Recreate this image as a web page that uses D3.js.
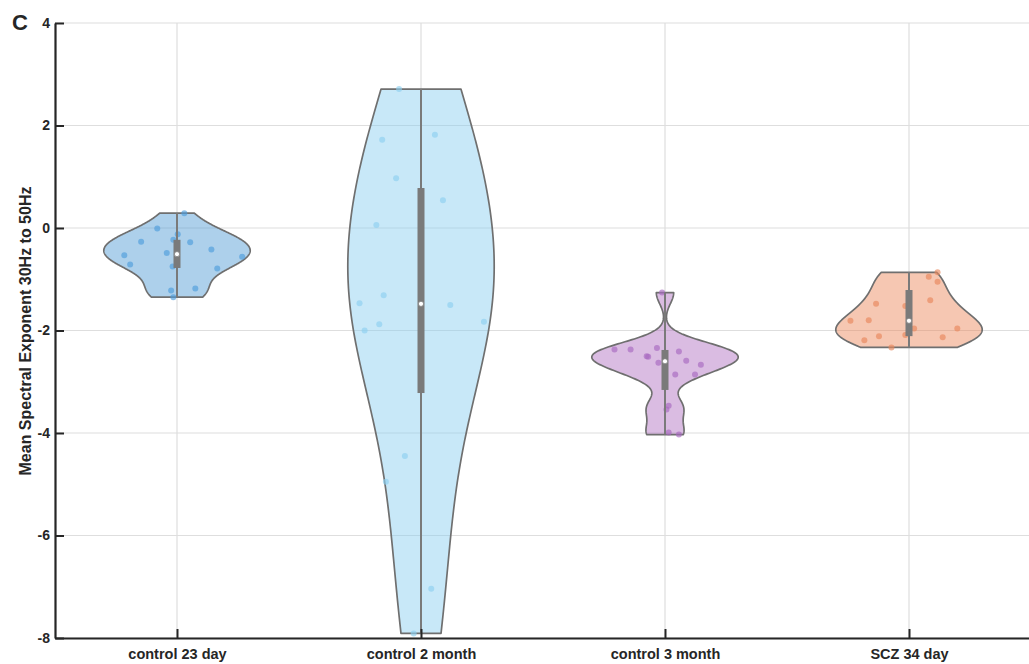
<!DOCTYPE html>
<html>
<head>
<meta charset="utf-8">
<script src="https://cdn.jsdelivr.net/npm/d3@7"></script>
<style>
  html, body { margin: 0; padding: 0; background: #ffffff; }
  svg { display: block; }
  text { font-family: "Liberation Sans", Arial, Helvetica, sans-serif; font-weight: bold; fill: #262626; }
</style>
</head>
<body>
<svg id="chart" width="1029" height="664"></svg>
<script>
// Groups shown along the x axis
const categories = ["control 23 day", "control 2 month", "control 3 month", "SCZ 34 day"];

// Mean spectral exponent (30–50 Hz) per recording, one array per group
const control23day = [0.29, -0.01, -0.27, -0.23, -0.12, -0.28, -0.42, -0.53, -0.49, -0.71, -0.75, -0.79, -0.56, -1.22, -1.18, -1.35];
const control2month = [2.71, 1.72, 1.82, 0.97, 0.54, 0.06, -1.31, -1.47, -1.50, -1.83, -1.88, -2.00, -4.45, -4.95, -7.04, -7.91];
const control3month = [-1.26, -2.37, -2.37, -2.34, -2.50, -2.51, -2.41, -2.63, -2.59, -2.67, -2.86, -2.86, -3.47, -3.54, -3.99, -4.03];
const scz34day = [-0.865, -0.95, -1.05, -1.48, -1.41, -1.52, -1.81, -1.80, -1.96, -1.96, -2.11, -2.19, -2.09, -2.13, -2.33];

// Horizontal scatter of each point, as a fraction of the maximum violin half-width
const jitter23day = [0.10, -0.27, -0.49, -0.05, 0.01, 0.18, 0.47, -0.72, -0.14, -0.64, -0.06, 0.55, 0.89, -0.08, 0.25, -0.05];
const jitter2month = [-0.30, -0.53, 0.19, -0.34, 0.30, -0.61, -0.51, -0.84, 0.40, 0.86, -0.57, -0.77, -0.22, -0.48, 0.14, -0.10];
const jitter3month = [-0.04, -0.69, -0.47, -0.11, -0.25, -0.23, 0.19, -0.09, 0.29, 0.49, 0.41, 0.14, 0.05, 0.02, 0.05, 0.19];
const jitterScz = [0.39, 0.27, 0.39, -0.45, 0.29, -0.05, -0.80, -0.55, 0.07, 0.66, -0.41, -0.61, -0.05, 0.46, -0.24];

// Box summary per group: upper quartile, median, lower quartile
const upperQuartile = [-0.23, 0.78, -2.38, -1.21];
const medians = [-0.51, -1.48, -2.60, -1.81];
const lowerQuartile = [-0.78, -3.22, -3.16, -2.11];

// Y axis ticks
const yTicks = [-8, -6, -4, -2, 0, 2, 4];

const groups = [control23day, control2month, control3month, scz34day];
const jitters = [jitter23day, jitter2month, jitter3month, jitterScz];
const violinColors = ["#4a97d3", "#86cdef", "#ad6bbf", "#eb8354"];
const dotColors = ["#4f9ddb", "#8ed0ef", "#a868c0", "#e8875c"];

const svg = d3.select("#chart");
const margin = { left: 55, top: 23, bottom: 638, right: 1031 };

const x = d3.scalePoint().domain(categories).range([margin.left, margin.right]).padding(0.5);
const y = d3.scaleLinear().domain([-8, 4]).range([margin.bottom, margin.top]);
const halfWidth = x.step() * 0.3;

// Grid
const grid = svg.append("g").attr("stroke", "#dedede").attr("stroke-width", 1.2);
grid.selectAll("line.h").data(yTicks).join("line")
  .attr("x1", margin.left).attr("x2", 1029)
  .attr("y1", d => y(d)).attr("y2", d => y(d));
grid.selectAll("line.v").data(categories).join("line")
  .attr("x1", d => x(d)).attr("x2", d => x(d))
  .attr("y1", margin.top).attr("y2", margin.bottom);

// Gaussian kernel density with the normal-reference bandwidth (MAD based)
function kde(values, n) {
  const med = d3.median(values);
  const sig = d3.median(values.map(v => Math.abs(v - med))) / 0.6745;
  const bw = sig * Math.pow(4 / (3 * values.length), 0.2);
  const lo = d3.min(values), hi = d3.max(values);
  const pts = d3.range(n).map(i => lo + (hi - lo) * i / (n - 1));
  return pts.map(p => {
    const d = d3.sum(values, v => Math.exp(-0.5 * ((p - v) / bw) ** 2));
    return [p, d];
  });
}

groups.forEach((vals, i) => {
  const cx = x(categories[i]);
  const dens = kde(vals, 200);
  const maxD = d3.max(dens, d => d[1]);
  const w = d => halfWidth * d[1] / maxD;

  const area = d3.area()
    .y(d => y(d[0]))
    .x0(d => cx - w(d))
    .x1(d => cx + w(d));

  const g = svg.append("g");
  g.append("path")
    .datum(dens)
    .attr("d", area)
    .attr("fill", violinColors[i])
    .attr("fill-opacity", 0.45)
    .attr("stroke", "#6f6f6f")
    .attr("stroke-width", 1.7)
    .attr("stroke-linejoin", "round");

  // Points
  g.selectAll("circle.pt").data(vals).join("circle")
    .attr("cx", (v, j) => cx + jitters[i][j] * halfWidth)
    .attr("cy", v => y(v))
    .attr("r", 3)
    .attr("fill", dotColors[i])
    .attr("fill-opacity", 0.65);

  // Whisker spans the data range
  g.append("line")
    .attr("x1", cx).attr("x2", cx)
    .attr("y1", y(d3.max(vals))).attr("y2", y(d3.min(vals)))
    .attr("stroke", "#7a7a7a").attr("stroke-width", 2);

  // Interquartile box
  g.append("rect")
    .attr("x", cx - 3.5).attr("width", 7)
    .attr("y", y(upperQuartile[i]))
    .attr("height", y(lowerQuartile[i]) - y(upperQuartile[i]))
    .attr("fill", "#7a7a7a");

  // Median
  g.append("circle")
    .attr("cx", cx).attr("cy", y(medians[i]))
    .attr("r", 2.6)
    .attr("fill", "#ffffff")
    .attr("stroke", "#7a7a7a").attr("stroke-width", 0.8);
});

// Axes
const yAxis = d3.axisLeft(y).tickValues(yTicks).tickFormat(d => String(d))
  .tickSizeInner(-9).tickSizeOuter(0).tickPadding(5);
const yg = svg.append("g").attr("transform", `translate(${margin.left},0)`).call(yAxis);
yg.select(".domain").attr("stroke", "#262626").attr("stroke-width", 2.2);
yg.selectAll(".tick line").attr("stroke", "#262626").attr("stroke-width", 2);
yg.selectAll(".tick text").style("font-size", "14px").attr("fill", "#262626");

const xAxis = d3.axisBottom(x).tickSizeInner(-9).tickSizeOuter(0).tickPadding(11);
const xg = svg.append("g").attr("transform", `translate(0,${margin.bottom})`).call(xAxis);
xg.select(".domain").attr("stroke", "#262626").attr("stroke-width", 2.2);
xg.selectAll(".tick line").attr("stroke", "#262626").attr("stroke-width", 2);
xg.selectAll(".tick text").style("font-size", "14.5px").attr("fill", "#262626");

// Y axis title
svg.append("text")
  .attr("transform", `translate(31,331) rotate(-90)`)
  .attr("text-anchor", "middle")
  .style("font-size", "16px")
  .text("Mean Spectral Exponent 30Hz to 50Hz");

// Panel letter
svg.append("text")
  .attr("x", 12).attr("y", 30)
  .style("font-size", "22px")
  .text("C");
</script>
</body>
</html>
